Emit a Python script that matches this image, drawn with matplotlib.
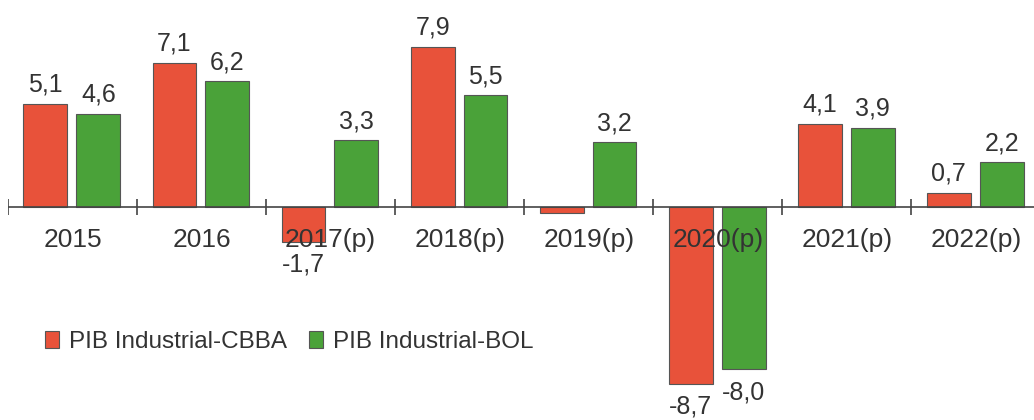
import numpy as np
from matplotlib import pyplot as plt

plt.rcParams['font.family'] = ['Liberation Sans', 'DejaVu Sans']

years = ["2015", "2016", "2017(p)", "2018(p)", "2019(p)", "2020(p)", "2021(p)", "2022(p)"]
cbba = [5.1, 7.1, -1.7, 7.9, -0.3, -8.7, 4.1, 0.7]
bol = [4.6, 6.2, 3.3, 5.5, 3.2, -8.0, 3.9, 2.2]
cbba_labels = ["5,1", "7,1", "-1,7", "7,9", "", "-8,7", "4,1", "0,7"]
bol_labels = ["4,6", "6,2", "3,3", "5,5", "3,2", "-8,0", "3,9", "2,2"]

red = "#e8523a"
green = "#4aa239"
txt = "#333333"

fig = plt.figure(figsize=(10.34, 4.2), dpi=100)
ax = fig.add_axes([0.0077, 0, 0.9923, 1])

x = np.arange(len(years))
w = 0.34
b1 = ax.bar(x - 0.21, cbba, w, color=red, edgecolor="#555555", linewidth=0.8,
            label="PIB Industrial-CBBA", zorder=2)
b2 = ax.bar(x + 0.2, bol, w, color=green, edgecolor="#555555", linewidth=0.8,
            label="PIB Industrial-BOL", zorder=2)

def put_labels(bars, vals, labels):
    for rect, v, lab in zip(bars, vals, labels):
        if not lab:
            continue
        cx = rect.get_x() + rect.get_width() / 2
        if v >= 0:
            ax.annotate(lab, (cx, v), textcoords="offset points", xytext=(0, 5),
                        ha="center", va="bottom", fontsize=18, color=txt, zorder=4)
        else:
            ax.annotate(lab, (cx, v), textcoords="offset points", xytext=(0, -8),
                        ha="center", va="top", fontsize=18, color=txt, zorder=4)

put_labels(b1, cbba, cbba_labels)
put_labels(b2, bol, bol_labels)

# zero line and group separators
ax.axhline(0, color="#444444", linewidth=1.2, zorder=3)
ax.vlines(np.arange(len(years)) - 0.5, -0.4, 0.4, color="#444444", linewidth=1.2, zorder=3)
for xi, yr in zip(x, years):
    ax.text(xi, -1.62, yr, ha="center", va="center", fontsize=19, color=txt, zorder=4)

ax.set_xlim(-0.5, 7.45)
ax.set_ylim(-10.49, 10.2)
ax.axis("off")

fig.legend(loc="center left", bbox_to_anchor=(0.022, 0.186), ncol=2, frameon=False,
           fontsize=17.5, handlelength=0.6, handleheight=0.7, handletextpad=0.4,
           columnspacing=0.9, labelcolor=txt)

fig.savefig("out.png", dpi=100)
